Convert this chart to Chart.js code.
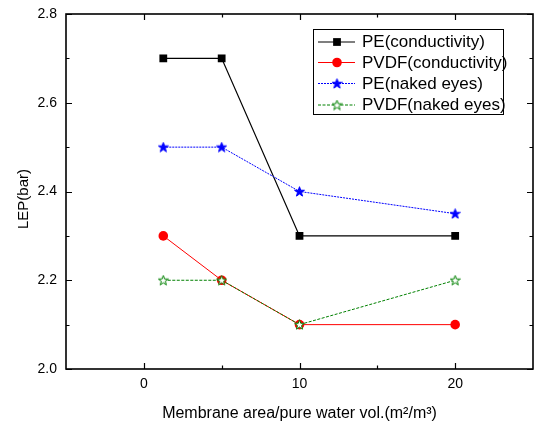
<!DOCTYPE html>
<html><head><meta charset="utf-8">
<script src="https://cdn.jsdelivr.net/npm/chart.js@4"></script>
<style>html,body{margin:0;padding:0;background:#fff}#wrap{width:534px;height:425px}</style>
</head><body><div id="wrap"><canvas id="c" width="534" height="425"></canvas></div>
<script>
const xValues = [1.25, 5, 10, 20];
const peConductivity = [2.7, 2.7, 2.3, 2.3];
const pvdfConductivity = [2.3, 2.2, 2.1, 2.1];
const peNakedEyes = [2.5, 2.5, 2.4, 2.35];
const pvdfNakedEyes = [2.2, 2.2, 2.1, 2.2];
const seriesLabels = ['PE(conductivity)', 'PVDF(conductivity)', 'PE(naked eyes)', 'PVDF(naked eyes)'];
const xTickValues = [0, 10, 20];
const xMinorTickValues = [5, 15];
const yTickValues = [2.0, 2.2, 2.4, 2.6, 2.8];
const yMinorTickValues = [2.1, 2.3, 2.5, 2.7];
const xTitle = 'Membrane area/pure water vol.(m\u00B2/m\u00B3)';
const yTitle = 'LEP(bar)';

function makeStar(fill, stroke) {
  const s = 11;
  const cv = document.createElement('canvas');
  cv.width = s; cv.height = s;
  const g = cv.getContext('2d');
  const cx = s / 2, cy = s / 2 + 0.4, ro = 5.2, ri = 2.1;
  g.beginPath();
  for (let i = 0; i < 10; i++) {
    const r = i % 2 === 0 ? ro : ri;
    const a = -Math.PI / 2 + i * Math.PI / 5;
    const px = cx + r * Math.cos(a), py = cy + r * Math.sin(a);
    if (i === 0) g.moveTo(px, py); else g.lineTo(px, py);
  }
  g.closePath();
  g.fillStyle = fill; g.fill();
  g.lineWidth = 1; g.strokeStyle = stroke; g.stroke();
  return cv;
}
const blueStar = makeStar('#0000ff', '#0000ff');
const greenStar = makeStar('#ffffff', '#008000');

function pts(ys) { return xValues.map((x, i) => ({x: x, y: ys[i]})); }

const datasets = [
  {label: seriesLabels[0], data: pts(peConductivity), borderColor: '#000', backgroundColor: '#000',
   borderWidth: 1.2, pointStyle: 'rect', pointRadius: 5.5, pointBorderWidth: 0, order: 3},
  {label: seriesLabels[1], data: pts(pvdfConductivity), borderColor: '#ff0000', backgroundColor: '#ff0000',
   borderWidth: 1, pointStyle: 'circle', pointRadius: 4.8, pointBorderWidth: 0, order: 2},
  {label: seriesLabels[2], data: pts(peNakedEyes), borderColor: '#0000ff', backgroundColor: '#0000ff',
   borderWidth: 1, borderDash: [2, 1], pointStyle: blueStar, pointRadius: 5, order: 1},
  {label: seriesLabels[3], data: pts(pvdfNakedEyes), borderColor: '#008000', backgroundColor: '#ffffff',
   borderWidth: 1, borderDash: [3, 1.5], pointStyle: greenStar, pointRadius: 5, order: 0}
];

const FONT = '"Liberation Sans", Arial, sans-serif';

const framePlugin = {
  id: 'frame',
  afterDatasetsDraw(chart) {
    const ctx = chart.ctx, a = chart.chartArea;
    const xs = chart.scales.x, ys = chart.scales.y;
    ctx.save();
    ctx.strokeStyle = '#000';
    ctx.lineWidth = 1.2;
    xTickValues.concat(xMinorTickValues).forEach(v => {
      const len = xTickValues.includes(v) ? 6 : 3.5;
      const px = Math.round(xs.getPixelForValue(v)) + 0.5;
      ctx.beginPath();
      ctx.moveTo(px, a.bottom); ctx.lineTo(px, a.bottom - len);
      ctx.moveTo(px, a.top); ctx.lineTo(px, a.top + len);
      ctx.stroke();
    });
    yTickValues.concat(yMinorTickValues).forEach(v => {
      const len = yTickValues.includes(v) ? 6 : 3.5;
      const py = Math.round(ys.getPixelForValue(v)) + 0.5;
      ctx.beginPath();
      ctx.moveTo(a.left, py); ctx.lineTo(a.left + len, py);
      ctx.moveTo(a.right, py); ctx.lineTo(a.right - len, py);
      ctx.stroke();
    });
    ctx.lineWidth = 1.6;
    ctx.strokeRect(a.left, a.top, a.right - a.left, a.bottom - a.top);
    ctx.restore();
  },
  afterDraw(chart) {
    const ctx = chart.ctx, a = chart.chartArea;
    // y-axis title
    ctx.save();
    ctx.translate(24, 199);
    ctx.rotate(-Math.PI / 2);
    ctx.fillStyle = '#000';
    ctx.font = '15px ' + FONT;
    ctx.textAlign = 'center';
    ctx.textBaseline = 'middle';
    ctx.fillText(yTitle, 0, 0);
    ctx.restore();
    // legend
    const bx = 313, by = 29, bw = 190, bh = 85;
    ctx.save();
    ctx.fillStyle = '#fff';
    ctx.fillRect(bx, by, bw, bh);
    ctx.strokeStyle = '#000';
    ctx.lineWidth = 1;
    ctx.strokeRect(bx + 0.5, by + 0.5, bw, bh);
    const rowY = [42, 62.5, 83.5, 105];
    chart.data.datasets.forEach((ds, i) => {
      const y = rowY[i];
      ctx.save();
      ctx.strokeStyle = ds.borderColor;
      ctx.lineWidth = ds.borderWidth;
      ctx.setLineDash(ds.borderDash || []);
      ctx.beginPath();
      ctx.moveTo(bx + 5, y); ctx.lineTo(bx + 42, y);
      ctx.stroke();
      ctx.restore();
      ctx.save();
      ctx.fillStyle = ds.backgroundColor;
      ctx.strokeStyle = ds.borderColor;
      Chart.helpers.drawPoint(ctx, {pointStyle: ds.pointStyle, radius: ds.pointRadius, borderWidth: 0, rotation: 0}, bx + 24, y);
      ctx.restore();
      ctx.fillStyle = '#000';
      ctx.font = '17px ' + FONT;
      ctx.textBaseline = 'middle';
      ctx.textAlign = 'left';
      ctx.fillText(ds.label, bx + 49, y + 0.5);
    });
    ctx.restore();
  }
};

new Chart(document.getElementById('c'), {
  type: 'line',
  data: {datasets: datasets},
  options: {
    responsive: false,
    devicePixelRatio: 1,
    animation: false,
    layout: {autoPadding: false, padding: {left: 0, right: 1, top: 14, bottom: 0}},
    plugins: {legend: {display: false}, tooltip: {enabled: false}},
    elements: {line: {tension: 0}},
    scales: {
      x: {
        type: 'linear', min: -5, max: 25,
        afterBuildTicks(s) { s.ticks = xTickValues.map(v => ({value: v})); },
        afterFit(s) { s.height = 56; s.paddingLeft = 0; s.paddingRight = 0; },
        grid: {display: false, drawTicks: false},
        border: {display: false},
        ticks: {color: '#000', font: {family: FONT, size: 14}, padding: 7, maxRotation: 0},
        title: {display: true, text: xTitle, color: '#000', font: {family: FONT, size: 16}, padding: {top: 0, bottom: 2}}
      },
      y: {
        type: 'linear', min: 2.0, max: 2.8,
        afterBuildTicks(s) { s.ticks = yTickValues.map(v => ({value: v})); },
        afterFit(s) { s.width = 66; s.paddingTop = 0; s.paddingBottom = 0; },
        grid: {display: false, drawTicks: false},
        border: {display: false},
        ticks: {color: '#000', font: {family: FONT, size: 14}, padding: 9,
                callback: v => Number(v).toFixed(1)},
        title: {display: false}
      }
    }
  },
  plugins: [framePlugin]
});
</script></body></html>
